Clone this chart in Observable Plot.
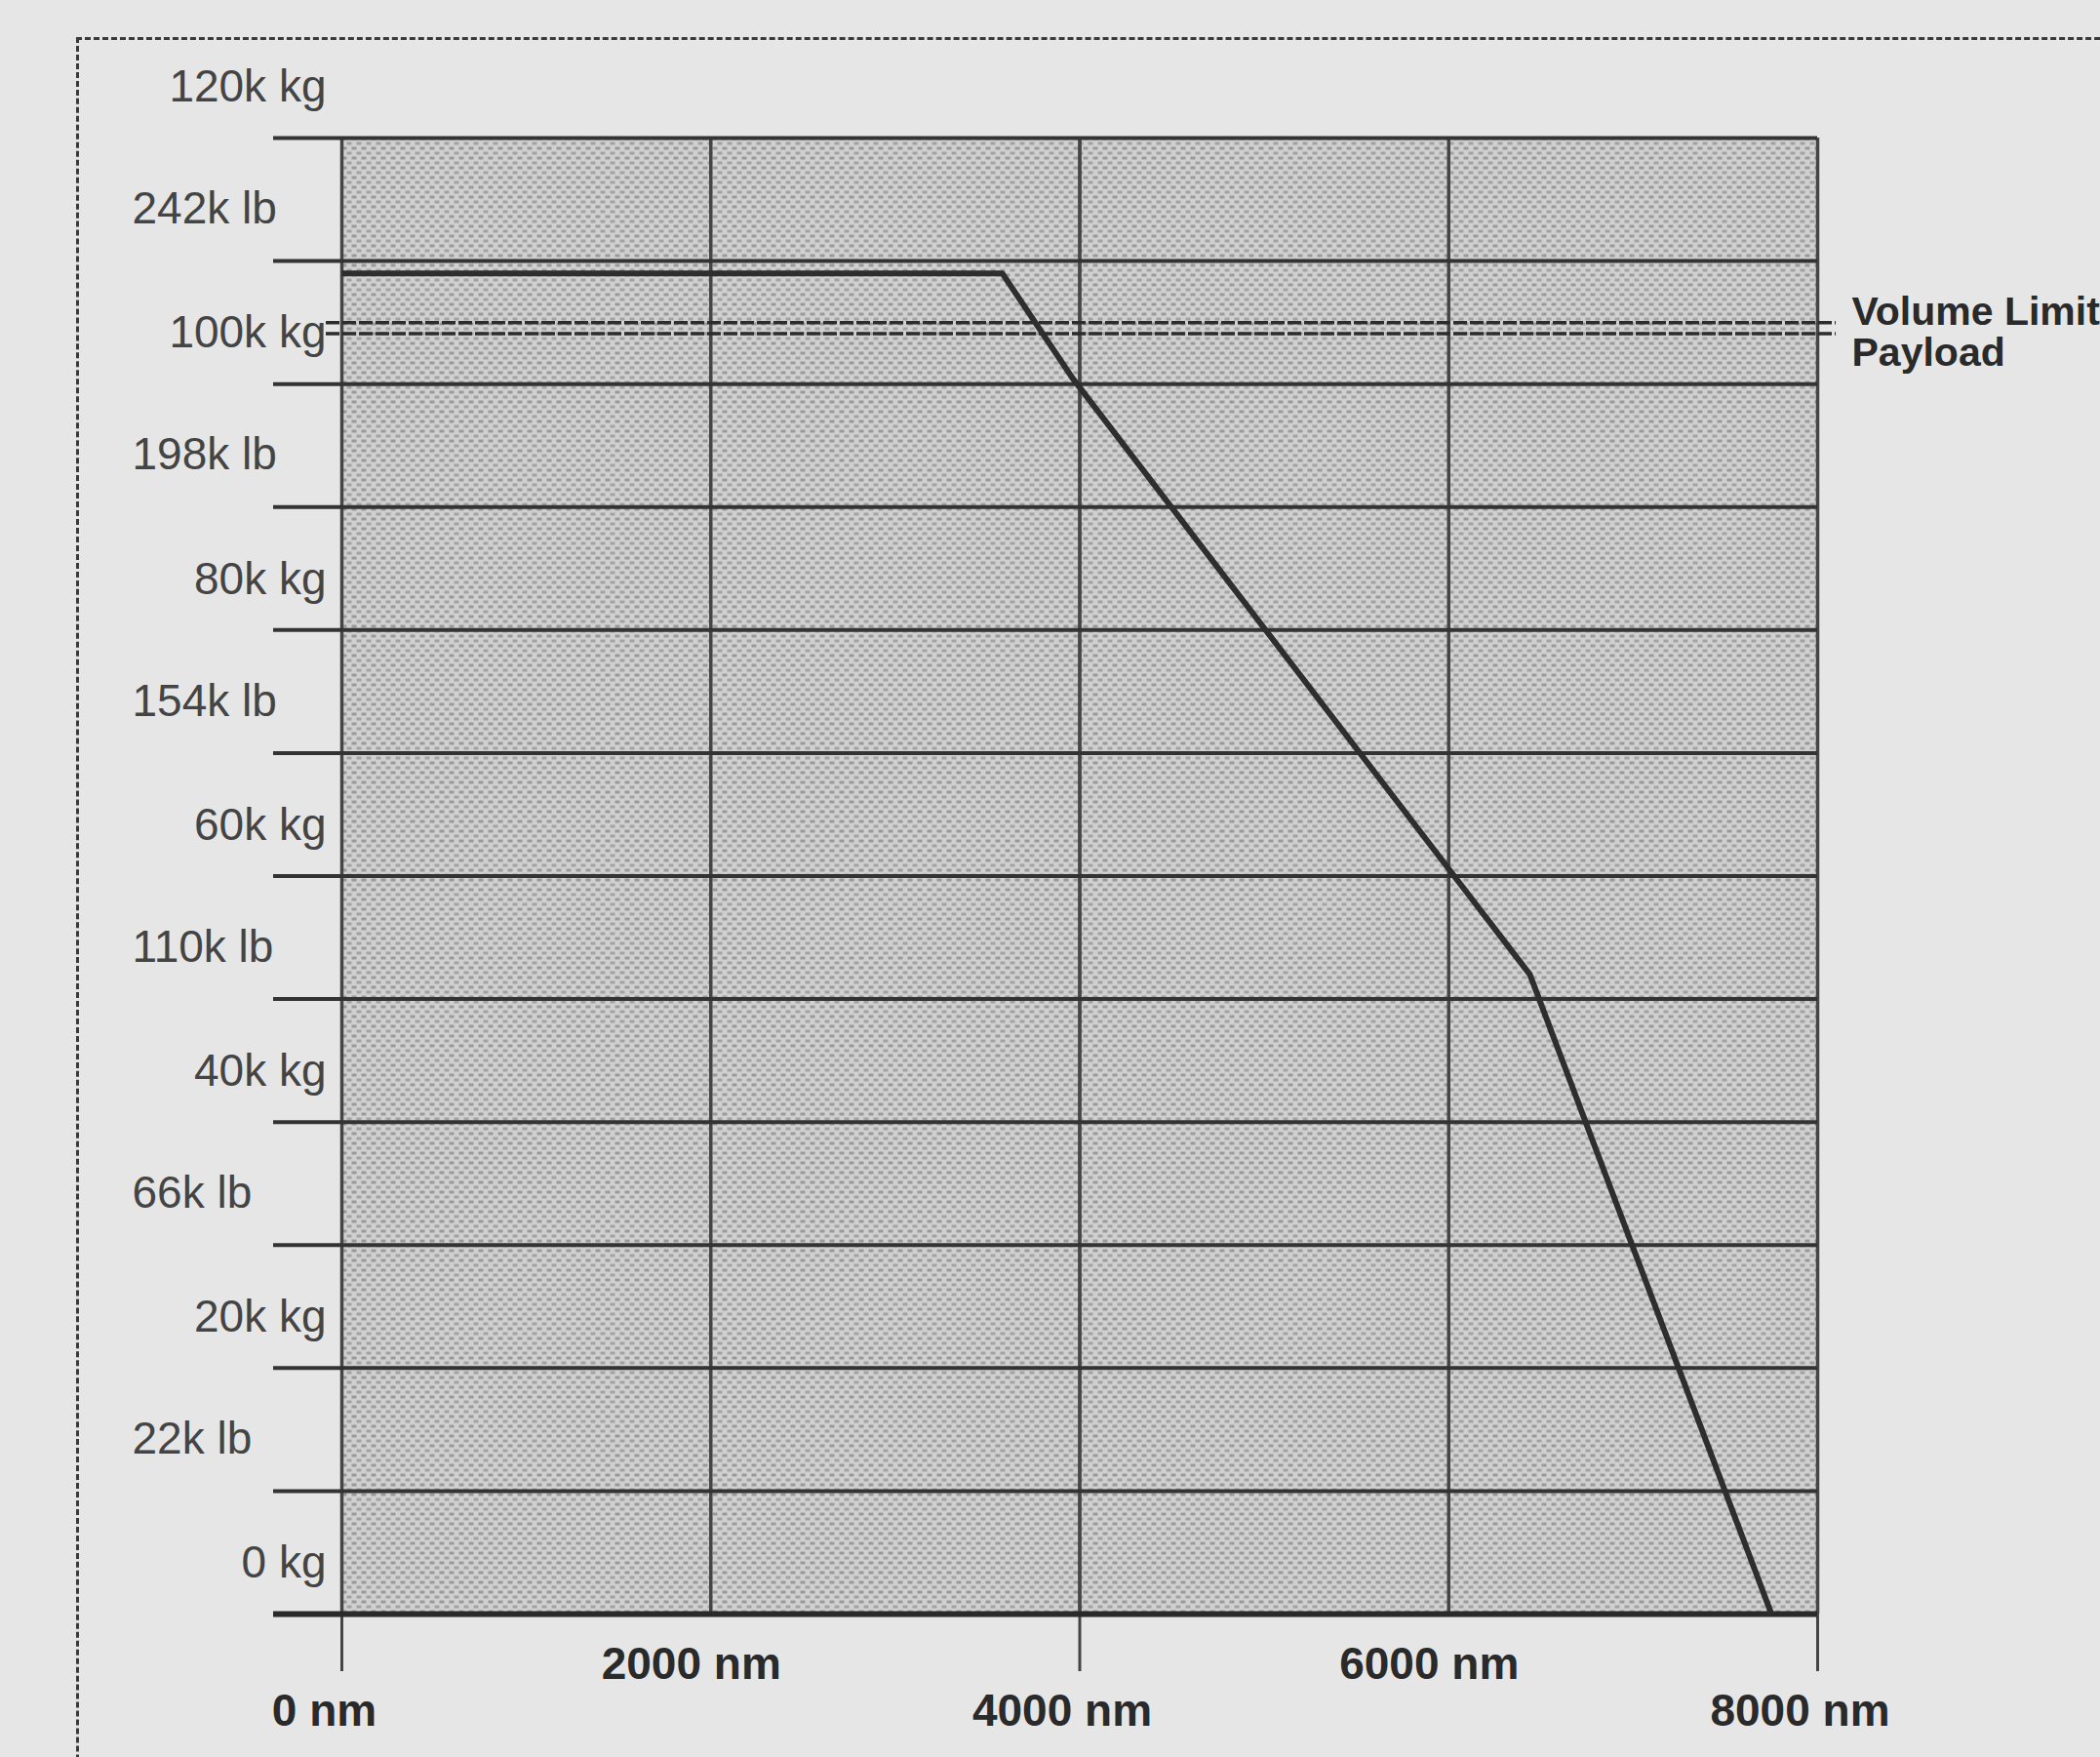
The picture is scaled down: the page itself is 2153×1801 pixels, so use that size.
<!DOCTYPE html>
<html>
<head>
<meta charset="utf-8">
<script src="https://cdn.jsdelivr.net/npm/d3@7"></script>
<script src="https://cdn.jsdelivr.net/npm/@observablehq/plot@0.6"></script>
<style>
  html, body { margin: 0; padding: 0; background: #e6e6e6; overflow: hidden; }
  #frame { position: absolute; left: 78px; top: 38px; width: 2300px; height: 2000px;
           border: 3px dashed #3a3a3a; box-sizing: border-box; pointer-events: none; }
  #chart { position: absolute; left: 0; top: 0; }
  svg { display: block; }
</style>
</head>
<body>
<div id="frame"></div>
<div id="chart"></div>
<script>
// Distance axis (nautical miles)
const distanceTicks = [0, 2000, 4000, 6000, 8000];
const distanceLabels = ["0 nm", "2000 nm", "4000 nm", "6000 nm", "8000 nm"];

// Payload axis (thousand kg); labels alternate kg and lb
const payloadLabelValues = [120, 110, 100, 90, 80, 70, 60, 50, 40, 30, 20, 10, 0];
const payloadLabels = ["120k kg", "242k lb", "100k kg", "198k lb", "80k kg", "154k lb",
                       "60k kg", "110k lb", "40k kg", "66k lb", "20k kg", "22k lb", "0 kg"];
const gridValues = [-5, 5, 15, 25, 35, 45, 55, 65, 75, 85, 95, 105, 115];

// Payload–range curve
const rangeNm = [0, 3580, 3960, 6030, 6440, 7750];
const payloadK = [104, 104, 95.5, 55, 47, -5];

// Limit lines
const limitNames = ["Volume Limit", "Payload"];
const limitValues = [100.0, 99.1];

const curve = rangeNm.map((x, i) => ({x, y: payloadK[i]}));
const yTicks = payloadLabelValues.map((v, i) => ({v, label: payloadLabels[i], i}));
const xTicks = distanceTicks.map((v, i) => ({v, label: distanceLabels[i], i}));
const limits = limitNames.map((name, i) => ({name, v: limitValues[i]}));

const dark = "#333";
const font = "'Liberation Sans', Arial, Helvetica, sans-serif";

const chart = Plot.plot({
  width: 2153,
  height: 1801,
  marginLeft: 350,
  marginRight: 290,
  marginTop: 141,
  marginBottom: 147,
  x: {domain: [0, 8000], axis: null},
  y: {domain: [-5, 115], axis: null},
  style: {background: "transparent", fontFamily: font, overflow: "visible"},
  marks: [
    Plot.frame({fill: "url(#halftone)", stroke: null}),
    // vertical grid lines
    Plot.ruleX(distanceTicks, {stroke: "#454545", strokeWidth: 3.5}),
    Plot.ruleX(distanceTicks.filter((d, i) => i % 2 === 0), {stroke: "#454545", strokeWidth: 3, insetBottom: -59}),
    // horizontal grid lines extending left as ticks
    Plot.ruleY(gridValues, {stroke: dark, strokeWidth: 4, insetLeft: -70}),
    Plot.ruleY([gridValues[0]], {stroke: "#2a2a2a", strokeWidth: 6, insetLeft: -70}),
    // volume limit / payload double line
    Plot.ruleY(limits, {y: "v", stroke: "#2c2c2c", strokeWidth: 3.5, strokeDasharray: "14 3", insetLeft: -16, insetRight: -19}),
    // payload-range curve
    Plot.line(curve, {x: "x", y: "y", stroke: "#2e2e2e", strokeWidth: 6, strokeLinejoin: "round", strokeLinecap: "butt"}),
    // y labels: kg (right aligned), lb (left aligned)
    Plot.text(yTicks.filter(d => d.i % 2 === 0), {y: "v", text: "label", frameAnchor: "left", textAnchor: "end",
      dx: -16, dy: 11, fontSize: 46, fill: "#444", lineAnchor: "middle"}),
    Plot.text(yTicks.filter(d => d.i % 2 === 1), {y: "v", text: "label", frameAnchor: "left", textAnchor: "start",
      dx: -215, dy: 10, fontSize: 46, fill: "#444", lineAnchor: "middle"}),
    // x labels, staggered
    Plot.text(xTicks.filter(d => d.i % 2 === 0), {x: "v", text: "label", frameAnchor: "bottom", dy: 100, dx: -18,
      fontSize: 46, fontWeight: "bold", fill: "#2a2a2a", lineAnchor: "middle"}),
    Plot.text(xTicks.filter(d => d.i % 2 === 1), {x: "v", text: "label", frameAnchor: "bottom", dy: 52, dx: -20,
      fontSize: 46, fontWeight: "bold", fill: "#2a2a2a", lineAnchor: "middle"}),
    // limit labels
    Plot.text(limits.filter(d => d.name === "Volume Limit"), {y: "v", text: "name", frameAnchor: "right", textAnchor: "start",
      dx: 35, dy: -11, fontSize: 41, fontWeight: "bold", fill: "#2a2a2a", lineAnchor: "middle"}),
    Plot.text(limits.filter(d => d.name === "Payload"), {y: "v", text: "name", frameAnchor: "right", textAnchor: "start",
      dx: 35, dy: 20, fontSize: 41, fontWeight: "bold", fill: "#2a2a2a", lineAnchor: "middle"})
  ]
});

d3.select(chart).insert("defs", ":first-child").html(`
  <pattern id="halftone" width="10" height="10" patternUnits="userSpaceOnUse">
    <rect width="10" height="10" fill="#d0d0d0"></rect>
    <rect x="0" y="0" width="5" height="3" fill="#999"></rect>
    <rect x="5" y="5" width="5" height="3" fill="#a2a2a2"></rect>
  </pattern>`);

document.getElementById("chart").appendChild(chart);
</script>
</body>
</html>
